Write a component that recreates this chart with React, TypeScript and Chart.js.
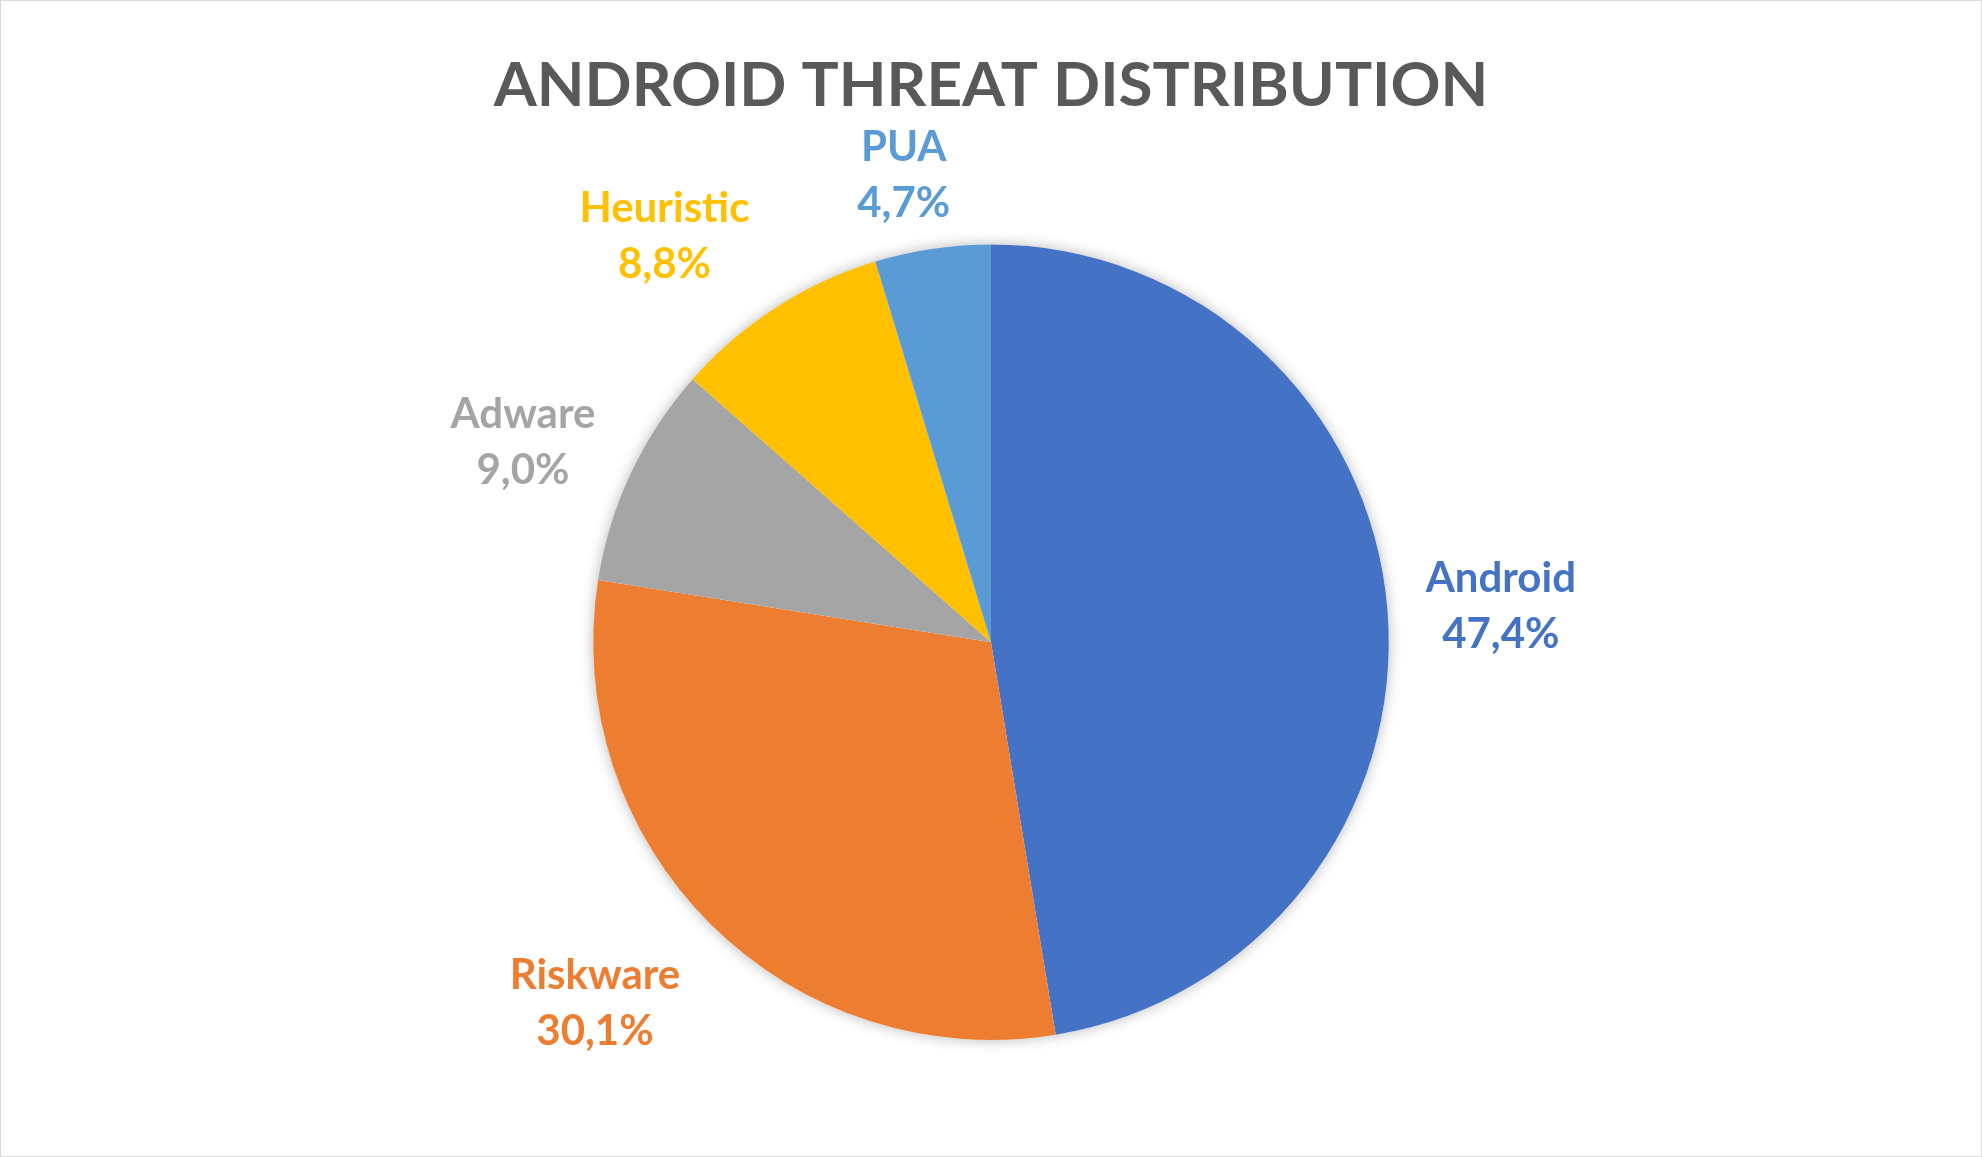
import { useEffect, useRef } from "react";
import { Chart, registerables } from "chart.js";

Chart.register(...registerables);

const categories = ["Android", "Riskware", "Adware", "Heuristic", "PUA"];
const shares = [47.4, 30.1, 9.0, 8.8, 4.7];
const sliceColors = ["#4472C4", "#ED7D31", "#A5A5A5", "#FFC000", "#5B9BD5"];

// where each data label sits: angle from 12 o'clock (clockwise, degrees) and distance in radii
const labelSpots = [
  { angle: 85.8, dist: 1.285 },
  { angle: 227.8, dist: 1.344 },
  { angle: 293.3, dist: 1.281 },
  { angle: 321.3, dist: 1.313 },
  { angle: 349.45, dist: 1.198 },
];

const FONT = "Lato, 'Open Sans', sans-serif";

const pieShadow = {
  id: "pieShadow",
  beforeDatasetsDraw(chart: Chart) {
    const arc: any = chart.getDatasetMeta(0).data[0];
    if (!arc) return;
    const ctx = chart.ctx;
    ctx.save();
    ctx.shadowColor = "rgba(0,0,0,0.28)";
    ctx.shadowBlur = 14;
    ctx.fillStyle = "#ffffff";
    ctx.beginPath();
    ctx.arc(arc.x, arc.y, arc.outerRadius, 0, Math.PI * 2);
    ctx.fill();
    ctx.restore();
  },
};

const outsideLabels = {
  id: "outsideLabels",
  afterDatasetsDraw(chart: Chart) {
    const meta = chart.getDatasetMeta(0);
    const ctx = chart.ctx;
    ctx.save();
    ctx.font = `bold 42px ${FONT}`;
    ctx.textAlign = "center";
    ctx.textBaseline = "middle";
    meta.data.forEach((el: any, i: number) => {
      const spot = labelSpots[i];
      const a = (spot.angle * Math.PI) / 180;
      const x = el.x + Math.sin(a) * el.outerRadius * spot.dist;
      const y = el.y - Math.cos(a) * el.outerRadius * spot.dist + 2;
      ctx.fillStyle = sliceColors[i];
      ctx.fillText(categories[i], x, y - 28);
      ctx.fillText(shares[i].toFixed(1).replace(".", ",") + "%", x, y + 28);
    });
    ctx.restore();
  },
};

export default function App() {
  const canvasRef = useRef<HTMLCanvasElement>(null);

  useEffect(() => {
    document.body.style.margin = "0";
    if (!canvasRef.current) return;

    const chart = new Chart(canvasRef.current, {
      type: "pie",
      data: {
        labels: categories,
        datasets: [
          {
            data: shares,
            backgroundColor: sliceColors,
            borderWidth: 0,
          },
        ],
      },
      options: {
        animation: false,
        responsive: true,
        maintainAspectRatio: false,
        layout: {
          padding: { top: 0, bottom: 116, left: 0, right: 0 },
        },
        plugins: {
          legend: { display: false },
          tooltip: { enabled: false },
          title: {
            display: true,
            text: "ANDROID THREAT DISTRIBUTION",
            color: "#595959",
            font: { family: FONT, size: 62, weight: "bold", lineHeight: 1.2 },
            padding: { top: 48, bottom: 121 },
          },
        },
      },
      plugins: [pieShadow, outsideLabels],
    });

    return () => {
      chart.destroy();
    };
  }, []);

  return (
    <div
      style={{
        width: "100vw",
        height: "100vh",
        boxSizing: "border-box",
        border: "1px solid #d9d9d9",
        background: "#ffffff",
        position: "relative",
      }}
    >
      <canvas ref={canvasRef} />
    </div>
  );
}
